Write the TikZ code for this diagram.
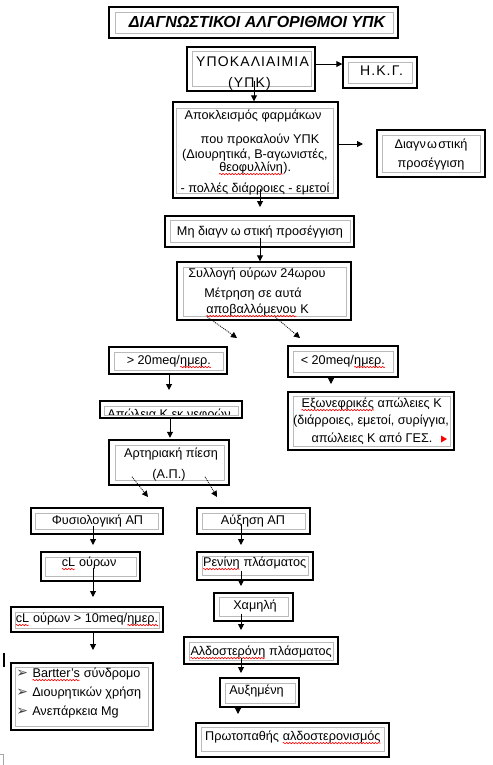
\documentclass[tikz,border=0pt]{standalone}
\usepackage{fontspec}
\setmainfont{Liberation Sans}
\newfontfamily\dejavu{DejaVu Sans}
\usetikzlibrary{arrows.meta,fit,calc,decorations.pathmorphing}
\newcommand\sq[1]{\tikz[baseline=(w.base),x=1pt,y=1pt]{\node[anchor=base west,inner sep=0pt,outer sep=0pt,draw=none] (w) at (0,0) {#1};
  \draw[red, line width=0.45pt, solid, decorate, decoration={zigzag, amplitude=0.55pt, segment length=2.3pt}] ([yshift=-2.3pt]w.base west) -- ([yshift=-2.3pt]w.base east);}}
\newcommand\wbox[9]{%
  \node[outerbox, fit={(#2,#3) (#4,#5)}] (#1) {};
  \node[innerbox, fit={(#6,#7) (#8,#9)}] (#1-in) {};}
\begin{document}
\begin{tikzpicture}[x=0.75pt,y=-0.75pt,
  outerbox/.style={draw=black, line width=1.1pt, inner sep=0pt, fill=white},
  innerbox/.style={draw=black!27, line width=0.75pt, inner sep=0pt},
  txt/.style={font=\fontsize{9.5}{11}\selectfont, inner sep=0pt, anchor=base, text=black},
  caps/.style={font=\fontsize{10.5}{12}\selectfont\addfontfeature{LetterSpace=8}},
  ttl/.style={font=\fontsize{12}{14}\selectfont\bfseries\itshape, inner sep=0pt, anchor=base},
  bul/.style={font=\dejavu\fontsize{10.5}{12}\selectfont, inner sep=0pt, anchor=base west, text=black!75},
  arr/.style={line width=0.75pt, -{Triangle[width=4.5pt,length=4.5pt]}},
  dotarr/.style={line width=0.6pt, dash pattern=on 0.75pt off 0.75pt, -{Triangle[width=4.5pt,length=4.5pt]}}]
\useasboundingbox[fill=white] (0,0) rectangle (493,765);
% boxes
\wbox{title}{109}{7}{398}{38}{115}{12}{393}{33}
\wbox{ypk}{187}{47}{315}{91}{192}{51}{311}{86}
\wbox{hkg}{343}{57}{417}{88}{348}{62}{412}{83}
\wbox{apok}{173}{102}{338}{198}{176}{108}{333}{193}
\wbox{diag}{377}{130}{485}{177}{382}{135}{480}{172}
\wbox{mh}{165}{216}{354}{247}{170}{220}{350}{242}
\wbox{syl}{177}{262}{351}{320}{183}{267}{346}{316}
\wbox{gt}{109}{347}{227}{374}{114}{352}{223}{370}
\wbox{apol}{100}{401}{242}{418}{104}{406}{238}{415}
\wbox{lt}{288}{346}{398}{377}{293}{351}{393}{372}
\wbox{exo}{288}{392}{454}{450}{293}{396}{450}{446}
\wbox{art}{109}{440}{229}{485}{115}{445}{224}{480}
\wbox{fys}{31}{508}{163}{534}{35}{513}{158}{529}
\wbox{cla}{41}{552}{140}{581}{45}{557}{136}{576}
\wbox{clb}{11}{607}{163}{632}{15}{612}{159}{628}
\wbox{afx}{197}{508}{310}{534}{202}{513}{305}{529}
\wbox{ren}{197}{552}{313}{580}{202}{556}{308}{575}
\wbox{xam}{214}{593}{293}{621}{219}{597}{288}{616}
\wbox{ald}{184}{637}{338}{664}{189}{642}{333}{660}
\wbox{afm}{220}{678}{299}{707}{225}{683}{295}{703}
\wbox{prot}{196}{723}{389}{757}{201}{727}{384}{751}
\wbox{list}{11}{663}{153}{730}{15}{667}{148}{726}
% texts
\node[ttl] (title-t) at (257,27) {ΔΙΑΓΝΩΣΤΙΚΟΙ ΑΛΓΟΡΙΘΜΟΙ ΥΠΚ};
\node[txt,caps] (ypk-t1) at (252.5,66) {ΥΠΟΚΑΛΙΑΙΜΙΑ};
\node[txt,caps] (ypk-t2) at (249.5,87) {(ΥΠΚ)};
\node[txt,caps] (hkg-t) at (381.5,75) {Η.Κ.Γ.};
\node[txt] (apok-t1) at (253,119) {Αποκλεισμός φαρμάκων};
\node[txt] (apok-t2) at (260,143) {που προκαλούν ΥΠΚ};
\node[txt] (apok-t3) at (255,158) {(Διουρητικά, Β-αγωνιστές,};
\node[txt] (apok-t4) at (255,171) {\sq{θεοφυλλίνη}).};
\node[txt] (apok-t5) at (255,192) {- πολλές διάρροιες - εμετοί};
\node[txt] (diag-t1) at (431,148) {Διαγν\kern1pt ω\kern1pt στική};
\node[txt] (diag-t2) at (431,167) {προσέγγιση};
\node[txt] (mh-t) at (260,235) {Μη διαγν\kern2.2pt ω\kern2.2pt στική προσέγγιση};
\node[txt] (syl-t1) at (257,277) {Συλλογή ούρων 24ωρου};
\node[txt] (syl-t2) at (253,297) {Μέτρηση σε αυτά};
\node[txt] (syl-t3) at (257.5,313) {\sq{αποβαλλόμενου} Κ};
\node[txt] (gt-t) at (169,364) {> 20meq/\sq{ημερ.}};
\node[txt] (lt-t) at (343,364) {< 20meq/\sq{ημερ.}};
\begin{scope}
\clip (104,406) rectangle (238,414.5);
\node[txt] (apol-t) at (169,418) {Απώλεια Κ εκ νεφρών};
\end{scope}
\node[txt] (exo-t1) at (371.5,407) {\sq{Εξωνεφρικές} απώλειες Κ};
\node[txt] (exo-t2) at (371,424) {(διάρροιες, εμετοί, συρίγγια,};
\node[txt] (exo-t3) at (372,442) {απώλειες Κ από ΓΕΣ.};
\fill[red] (441,435.5) -- (447,439) -- (441,442.5) -- cycle;
\node[txt] (art-t1) at (171,457) {Αρτηριακή πίεση};
\node[txt] (art-t2) at (169,478) {(Α.Π.)};
\node[txt] (fys-t) at (97.5,524) {Φυσιολογική ΑΠ};
\node[txt] (cla-t) at (89,566) {\sq{cL} ούρων};
\node[txt] (clb-t) at (87,622) {\sq{cL} ούρων > 10meq/\sq{ημερ.}};
\node[txt] (afx-t) at (253,524) {Αύξηση ΑΠ};
\node[txt] (ren-t) at (254.5,566) {\sq{Ρενίνη} πλάσματος};
\node[txt] (xam-t) at (255,609) {Χαμηλή};
\node[txt] (ald-t) at (261,655) {\sq{Αλδοστερόνη} πλάσματος};
\node[txt] (afm-t) at (256.5,694) {Αυξημένη};
\node[txt] (prot-t) at (293,740) {Πρωτοπαθής \sq{αλδοστερονισμός}};
\node[bul] (b1) at (16,677) {➢};
\node[bul] (b2) at (16,696) {➢};
\node[bul] (b3) at (16,715) {➢};
\node[txt, anchor=base west] (l1) at (32,677) {\sq{Bartter's} σύνδρομο};
\node[txt, anchor=base west] (l2) at (32,696) {Διουρητικών χρήση};
\node[txt, anchor=base west] (l3) at (32,715) {Ανεπάρκεια Mg};
% free ends
\coordinate (e-diag) at (363,144);
\coordinate (e-mh) at (260,207);
\coordinate (e-gt) at (237,338);
\coordinate (e-lt) at (300,338);
\coordinate (e-apol) at (169,390);
\coordinate (e-exo) at (331,384);
\coordinate (e-fys) at (148,497);
\coordinate (e-afx) at (217,497);
\coordinate (e-cla) at (93,545);
\coordinate (e-clb) at (93,597);
\coordinate (e-list) at (93,650);
\coordinate (e-ren) at (241,545);
\coordinate (e-xam) at (241,586);
\coordinate (e-ald) at (241,630);
\coordinate (e-afm) at (241,673);
\coordinate (e-prot) at (238,714);
% connectors
\draw[arr] ($(ypk.east)+(0,-5)$) -- ($(hkg.west)+(0,-8.5)$);
\draw[arr] ($(ypk.south)+(3,-11)$) -- ($(apok.north)+(-1.5,0)$);
\draw[arr] ($(apok.east)+(0,-6)$) -- (e-diag);
\draw[arr] ($(apok.south)+(4.5,-10)$) -- (e-mh);
\draw[arr] ($(mh.south)+(0.5,-10)$) -- ($(syl.north)+(-4,0)$);
\draw[dotarr] ($(syl.south)+(-57,-4)$) -- (e-gt);
\draw[dotarr] ($(syl.south)+(11,-4)$) -- (e-lt);
\draw[arr] ($(gt.south)+(1,0)$) -- (e-apol);
\draw[arr] ($(apol.south)+(-1,0)$) -- ($(art.north)+(1,-1.5)$);
\draw[arr] ($(lt.south)+(-12,0)$) -- (e-exo);
\draw[dotarr] ($(art.south)+(-37,-9)$) -- (e-fys);
\draw[dotarr] ($(art.south)+(36,-9)$) -- (e-afx);
\draw[arr] ($(fys.south)+(-4,-9)$) -- (e-cla);
\draw[arr] ($(cla.south)+(2.5,-14)$) -- (e-clb);
\draw[arr] ($(clb.south)+(6,0)$) -- (e-list);
\draw[arr] ($(afx.south)+(-12.5,-11)$) -- (e-ren);
\draw[arr] ($(ren.south)+(-14,-10)$) -- (e-xam);
\draw[arr] ($(xam.south)+(-12.5,-8)$) -- (e-ald);
\draw[arr] ($(ald.south)+(-20,-7)$) -- (e-afm);
\draw[arr] ($(afm.south)+(-21.5,0)$) -- (e-prot);
% editor marks
\draw[line width=1.5pt] (4,653) -- (4,667);
\draw[black!35, line width=0.75pt] (0,754) -- (3,754) -- (3,765);
\end{tikzpicture}
\end{document}
